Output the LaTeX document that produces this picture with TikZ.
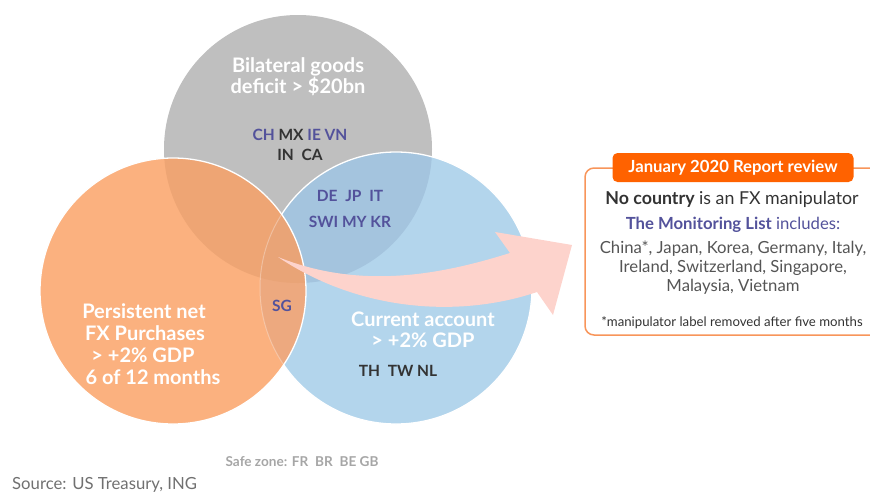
\documentclass[tikz,border=0pt]{standalone}
\usepackage{fontspec}
\setmainfont{Lato}
\definecolor{cgray}{HTML}{BFBFBF}
\definecolor{cblue}{HTML}{B3D5EC}
\definecolor{corange}{HTML}{FBB17F}
\definecolor{cog}{HTML}{EEA574}
\definecolor{cgb}{HTML}{A4C4DE}
\definecolor{cob}{HTML}{EDA97F}
\definecolor{cogb}{HTML}{E9A477}
\definecolor{arrowpink}{HTML}{FDD3CC}
\definecolor{ingorange}{HTML}{FF6200}
\definecolor{boxorange}{HTML}{F8955A}
\definecolor{purp}{HTML}{53529B}
\definecolor{dark}{HTML}{333333}
\definecolor{listgray}{HTML}{555555}
\definecolor{safegray}{HTML}{A6A6A6}
\definecolor{srcgray}{HTML}{707070}
\tikzset{
  title/.style={text=white, font=\fontsize{20}{22}\selectfont\bfseries, align=center, inner sep=0},
  codes/.style={font=\fontsize{15.5}{20}\selectfont\bfseries, inner sep=0},
  boxtxt/.style={font=\fontsize{16.7}{19}\selectfont, inner sep=0, align=center},
}
\begin{document}
\begin{tikzpicture}[x=1pt,y=-1pt]
\useasboundingbox (0,0) rectangle (870,496);
\clip (0,0) rectangle (870,496);
\coordinate (G) at (298,149);
\coordinate (B) at (396,288);
\coordinate (O) at (173,291);
% circles
\fill[cgray] (G) circle (134);
\fill[cblue] (B) circle (136);
\begin{scope}
  \clip (G) circle (134);
  \fill[cgb] (B) circle (136);
\end{scope}
\draw[white, line width=1.3] (B) circle (136);
\fill[corange] (O) circle (133);
\begin{scope}
  \clip (O) circle (133);
  \fill[cog] (G) circle (134);
  \fill[cob] (B) circle (136);
  \begin{scope}
    \clip (G) circle (134);
    \fill[cogb] (B) circle (136);
  \end{scope}
  \draw[white, opacity=0.3, line width=1] (B) circle (136);
\end{scope}
\draw[white, line width=1.3] (O) circle (133);
% arrow
\coordinate (tail) at (278,257);
\coordinate (tip) at (572,245);
\fill[arrowpink] (tail) .. controls (360,290) and (440,275) .. (510,253) -- (495,232) -- (tip) -- (553,315) -- (537,292) .. controls (460,318) and (360,312) .. (tail) -- cycle;
% circle texts
\node[title, anchor=base] (g1) at (298,72) {Bilateral goods};
\node[title, anchor=base] (g2) at (298,93) {deficit > \$20bn};
\node[codes, anchor=base] (c1) at (300,140) {\textcolor{purp}{CH} \textcolor{dark}{MX} \textcolor{purp}{IE VN}};
\node[codes, anchor=base, text=dark] (c2) at (300,160) {IN\enspace CA};
\node[codes, anchor=base, text=purp] (c3) at (350,201) {DE\enspace JP\enspace IT};
\node[codes, anchor=base, text=purp] (c4) at (350,227) {SWI MY KR};
\node[codes, anchor=base, text=purp] (c5) at (282,311) {SG};
\node[title, anchor=base] (o1) at (144,318) {Persistent net};
\node[title, anchor=base] (o2) at (145,340) {FX Purchases};
\node[title, anchor=base] (o3) at (143,362) {> +2\% GDP};
\node[title, anchor=base] (o4) at (153,384) {6 of 12 months};
\node[title, anchor=base] (b1) at (423,326) {Current account};
\node[title, anchor=base] (b2) at (423,347) {> +2\% GDP};
\node[codes, anchor=base, text=dark] (c6) at (398,376) {TH\enspace TW NL};
\node[font=\fontsize{13.6}{16}\selectfont\bfseries, text=safegray, anchor=base, inner sep=0] (safe) at (302,466) {Safe zone: FR\enspace BR\enspace BE GB};
\node[font=\fontsize{16.7}{19}\selectfont, text=srcgray, anchor=base west, inner sep=0] (src) at (12,489) {Source: US Treasury, ING};
% box
\draw[boxorange, line width=1.5, rounded corners=9] (585,168) rectangle (900,335);
\node[fill=ingorange, rounded corners=5, minimum width=241, minimum height=29, inner sep=0, text=white, font=\fontsize{16.7}{19}\selectfont\bfseries] (hdr) at (733,167.5) {January 2020 Report review};
\node[boxtxt, anchor=base, text=dark, font=\fontsize{17.8}{20}\selectfont] (l1) at (732,204) {\textbf{No country} is an FX manipulator};
\node[boxtxt, anchor=base, text=purp] (l2) at (733,229) {\textbf{The Monitoring List} includes:};
\node[boxtxt, anchor=base, text=listgray] (l3) at (733,253) {China*, Japan, Korea, Germany, Italy,};
\node[boxtxt, anchor=base, text=listgray] (l4) at (733,272) {Ireland, Switzerland, Singapore,};
\node[boxtxt, anchor=base, text=listgray] (l5) at (733,291) {Malaysia, Vietnam};
\node[boxtxt, anchor=base, text=dark, font=\fontsize{13.2}{15}\selectfont] (l6) at (732,326) {*manipulator label removed after five months};
\end{tikzpicture}
\end{document}
